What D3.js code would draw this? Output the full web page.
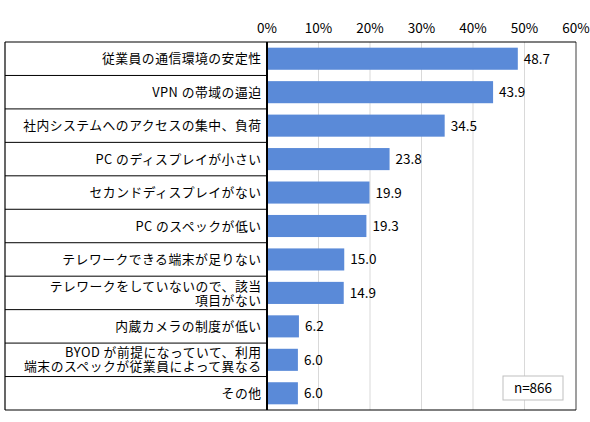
<!DOCTYPE html>
<html>
<meta charset="utf-8">
<style>
body { margin: 0; background: #fff; }
text { font-family: "Noto Sans CJK JP", "Noto Sans", sans-serif; fill: #000; }
</style>
<body>
</body>
<script src="https://cdn.jsdelivr.net/npm/d3@7"></script>
<script>

var categories = [
  ["従業員の通信環境の安定性"],
  ["VPN の帯域の逼迫"],
  ["社内システムへのアクセスの集中、負荷"],
  ["PC のディスプレイが小さい"],
  ["セカンドディスプレイがない"],
  ["PC のスペックが低い"],
  ["テレワークできる端末が足りない"],
  ["テレワークをしていないので、該当", "項目がない"],
  ["内蔵カメラの制度が低い"],
  ["BYOD が前提になっていて、利用", "端末のスペックが従業員によって異なる"],
  ["その他"]
];
var values = [48.7, 43.9, 34.5, 23.8, 19.9, 19.3, 15.0, 14.9, 6.2, 6.0, 6.0];
var ticks = [0, 10, 20, 30, 40, 50, 60];
var note = "n=866";

var width = 590, height = 422;
var leftX = 5, x0 = 267, x1 = 576, topY = 42, bottomY = 410;

var svg = d3.select("body").append("svg")
    .attr("width", width)
    .attr("height", height);

var x = d3.scaleLinear().domain([0, 60]).range([x0, x1]);
var y = d3.scaleBand().domain(d3.range(categories.length)).range([topY, bottomY]).paddingInner(0.34).paddingOuter(0.17);
var rows = d3.scaleBand().domain(d3.range(categories.length)).range([topY, bottomY]);

// gridlines
svg.append("g").selectAll("line").data(ticks.slice(1, -1)).enter()
  .append("line")
  .attr("x1", function (d) { return x(d); }).attr("x2", function (d) { return x(d); })
  .attr("y1", topY).attr("y2", bottomY)
  .attr("stroke", "#d9d9d9").attr("stroke-width", 1);

// top axis labels
svg.append("g").selectAll("text").data(ticks).enter()
  .append("text")
  .attr("x", function (d) { return x(d); })
  .attr("y", 33)
  .attr("text-anchor", "middle")
  .attr("font-size", 13.5)
  .text(function (d) { return d + "%"; });

// bars
svg.append("g").selectAll("rect").data(values).enter()
  .append("rect")
  .attr("x", x(0))
  .attr("y", function (d, i) { return y(i); })
  .attr("width", function (d) { return x(d) - x(0); })
  .attr("height", y.bandwidth())
  .attr("fill", "#5a8ad8");

// value labels
svg.append("g").selectAll("text").data(values).enter()
  .append("text")
  .attr("x", function (d) { return x(d) + 6; })
  .attr("y", function (d, i) { return y(i) + y.bandwidth() / 2 + 5; })
  .attr("font-size", 13.5)
  .text(function (d) { return d.toFixed(1); });

// category table
svg.append("g").selectAll("line").data(d3.range(1, categories.length)).enter()
  .append("line")
  .attr("x1", leftX).attr("x2", x0)
  .attr("y1", function (d) { return rows(d); }).attr("y2", function (d) { return rows(d); })
  .attr("stroke", "#000").attr("stroke-width", 1);

svg.append("g").selectAll("text").data(categories).enter()
  .append("text")
  .attr("text-anchor", "end")
  .attr("font-size", 12.8)
  .attr("letter-spacing", 0.5)
  .each(function (d, i) {
    var cy = rows(i) + rows.bandwidth() / 2;
    var start = cy + 4.6 - (d.length - 1) * 7;
    d3.select(this).selectAll("tspan").data(d).enter()
      .append("tspan")
      .attr("x", 261.5)
      .attr("y", function (t, j) { return start + j * 14; })
      .text(function (t) { return t; });
  });

// frame
svg.append("line").attr("x1", x1).attr("x2", x1).attr("y1", topY).attr("y2", bottomY)
  .attr("stroke", "#7f7f7f").attr("stroke-width", 1.5);
svg.append("line").attr("x1", leftX).attr("x2", x1).attr("y1", topY).attr("y2", topY)
  .attr("stroke", "#000").attr("stroke-width", 1.2);
svg.append("line").attr("x1", leftX).attr("x2", x1).attr("y1", bottomY).attr("y2", bottomY)
  .attr("stroke", "#000").attr("stroke-width", 1.2);
svg.append("line").attr("x1", leftX).attr("x2", leftX).attr("y1", topY).attr("y2", bottomY)
  .attr("stroke", "#000").attr("stroke-width", 1.2);
svg.append("line").attr("x1", x0).attr("x2", x0).attr("y1", topY).attr("y2", bottomY)
  .attr("stroke", "#000").attr("stroke-width", 2);

// note box
var nb = svg.append("g").attr("transform", "translate(503,376)");
nb.append("rect").attr("width", 60).attr("height", 24)
  .attr("fill", "#fff").attr("stroke", "#bfbfbf").attr("stroke-width", 1);
nb.append("text").attr("x", 30).attr("y", 17).attr("text-anchor", "middle")
  .attr("font-size", 13.5).text(note);

</script>
</html>
